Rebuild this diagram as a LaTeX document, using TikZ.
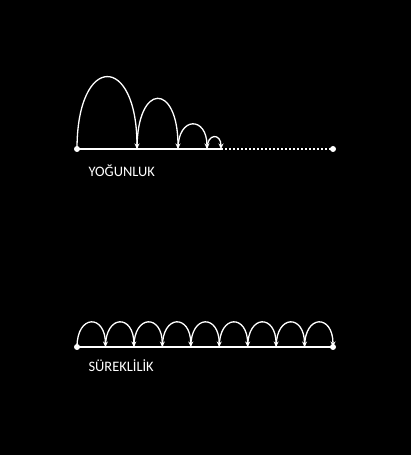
\documentclass[tikz,border=0pt]{standalone}
\usepackage{fontspec}
\setmainfont{Carlito}
\usetikzlibrary{arrows.meta}
\begin{document}
\begin{tikzpicture}[x=1bp,y=1bp,
		base/.style={draw=white,line width=1.5bp},
		jump/.style={draw=white,line width=1.3bp,-{Stealth[length=5.5bp,width=5bp]}},
		dot/.style={circle,fill=white,inner sep=0pt,minimum size=6bp},
		caption/.style={text=white,anchor=base west,font=\fontsize{14.5}{17}\selectfont}]
			\fill [black] (0,0) rectangle (411,455);
			\useasboundingbox (0,0) rectangle (411,455);
			% yogunluk
			\node [dot] (y0) at (77,306) {};
			\coordinate (y1) at (137,306);
			\coordinate (y2) at (178,306);
			\coordinate (y3) at (207,306);
			\coordinate (y4) at (221,306);
			\node [dot] (yend) at (333,306) {};
			\draw [base] (y0.center)--(y4);
			\draw [base,line width=1.3bp,dash pattern=on 1.5bp off 2.5bp] (y4)--(yend.center);
			\draw [jump] (y0.center) ..controls +(0,96) and +(0,96) .. (y1);
			\draw [jump] (y1) ..controls +(0,67) and +(0,67) .. (y2);
			\draw [jump] (y2) ..controls +(0,33) and +(0,33) .. (y3);
			\draw [jump] (y3) ..controls +(0,16) and +(0,16) .. (y4);
			\node [caption] (ylabel) at (85,278) {YOĞUNLUK};
			% sureklilik
			\node [dot] (s0) at (77,108) {};
			\node [dot] (s9) at (333,108) {};
			\foreach \i in {1,...,8}
				\coordinate (s\i) at (77+28.444*\i,108);
			\draw [base] (s0.center)--(s9.center);
			\foreach \i [evaluate=\i as \j using int(\i+1)] in {0,...,8}
				\draw [jump] (s\i.center) ..controls +(0,33) and +(0,33) .. (s\j.center);
			\node [caption] (slabel) at (85,83) {SÜREKLİLİK};
\end{tikzpicture}
\end{document}
